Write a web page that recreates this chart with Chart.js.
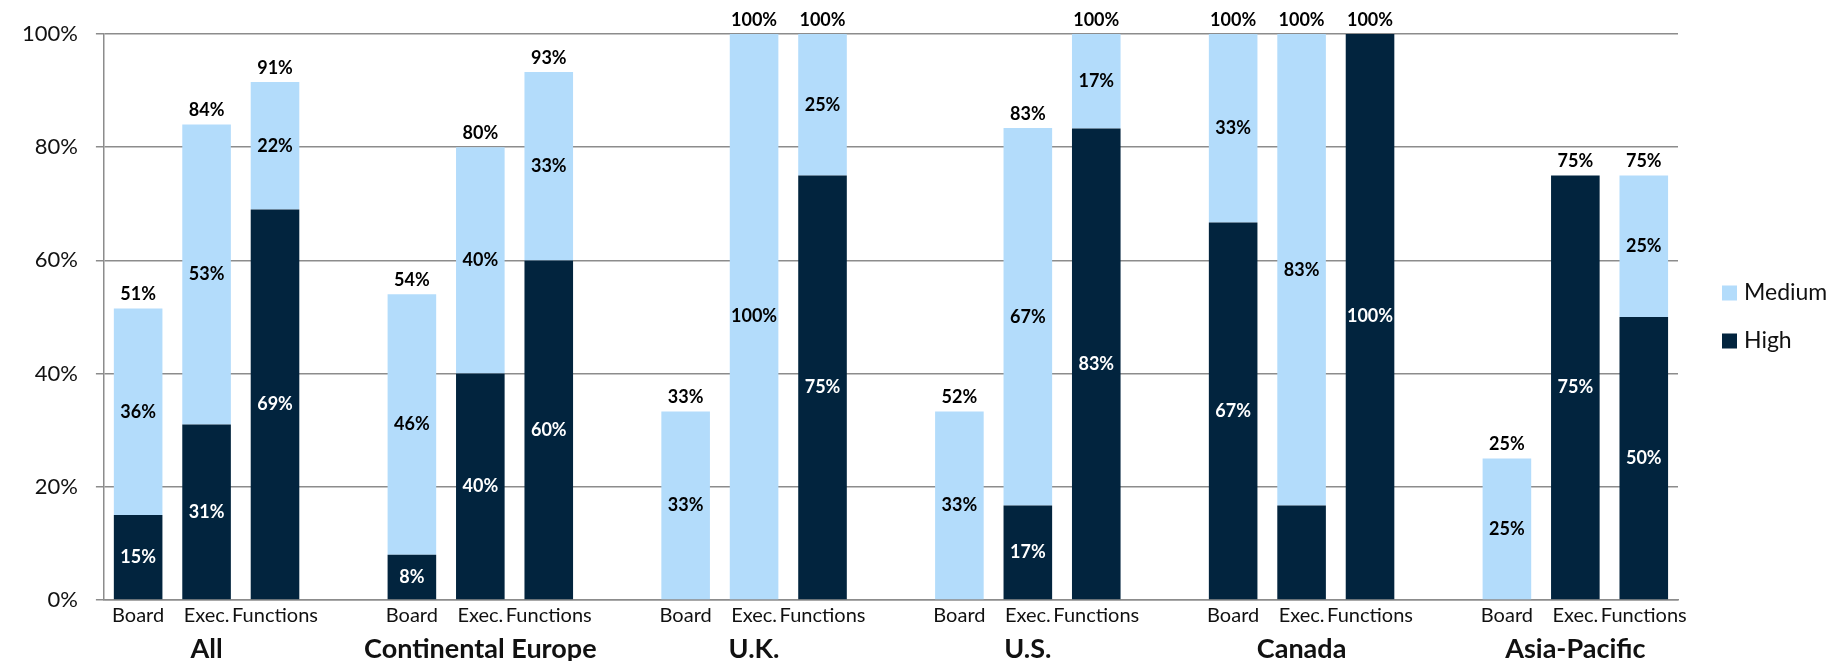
<!DOCTYPE html>
<html>
<head>
<meta charset="utf-8">
<title>Risk level by region</title>
<script src="https://cdn.jsdelivr.net/npm/chart.js@4.4.1/dist/chart.umd.min.js"></script>
<style>
    html, body { margin: 0; padding: 0; background: #fff; }
</style>
</head>
<body>
<canvas id="myChart" width="1835" height="661"></canvas>
<script>
// Regions and the three bars shown for each
const groups = ['All', 'Continental Europe', 'U.K.', 'U.S.', 'Canada', 'Asia-Pacific'];
const roles = ['Board', 'Exec.', 'Functions'];

// Bar heights (%), three per region in the order above
const highValues   = [15, 31, 69,   8, 40, 60,    0, 0, 75,      0, 16.7, 83.3,    66.7, 16.7, 100,   0, 75, 50];
const mediumValues = [36.5, 53, 22.5,   46, 40, 33.3,   33.3, 100, 25,   33.3, 66.7, 16.7,   33.3, 83.3, 0,   25, 0, 25];

// Printed labels (null = no label)
const highLabels   = [15, 31, 69,   8, 40, 60,   null, null, 75,   null, 17, 83,   67, null, 100,   null, 75, 50];
const mediumLabels = [36, 53, 22,   46, 40, 33,   33, 100, 25,   33, 67, 17,   33, 83, null,   25, null, 25];
const totalLabels  = [51, 84, 91,   54, 80, 93,   33, 100, 100,   52, 83, 100,   100, 100, 100,   25, 75, 75];

const yTicks = [0, 20, 40, 60, 80, 100];

const darkBlue = '#02243e';
const lightBlue = '#b3dcfb';
const gridGray = '#8c8c8c';
const textColor = '#111';

// Build the category slots, with one empty slot between regions
const slotLabels = [];
const groupRow = [];
const high = [], medium = [], hiText = [], medText = [], totText = [];

groups.forEach((g, gi) => {
    if (gi > 0) {
        slotLabels.push('');
        groupRow.push('');
        high.push(null); medium.push(null);
        hiText.push(null); medText.push(null); totText.push(null);
    }
    roles.forEach((r, ri) => {
        const k = gi * 3 + ri;
        slotLabels.push(r);
        groupRow.push(ri === 1 ? g : '');
        high.push(highValues[k]);
        medium.push(mediumValues[k]);
        hiText.push(highLabels[k]);
        medText.push(mediumLabels[k]);
        totText.push(totalLabels[k]);
    });
});

Chart.defaults.font.family = 'Lato';
Chart.defaults.color = textColor;

// Percent labels inside the segments and on top of each bar
const barLabels = {
    id: 'barLabels',
    afterDatasetsDraw(chart) {
        const ctx = chart.ctx;
        const hiMeta = chart.getDatasetMeta(0);
        const medMeta = chart.getDatasetMeta(1);
        ctx.save();
        ctx.font = 'bold 18px Lato';
        ctx.textAlign = 'center';
        ctx.textBaseline = 'middle';

        hiMeta.data.forEach((bar, i) => {
            if (hiText[i] == null) return;
            ctx.fillStyle = '#fff';
            ctx.fillText(hiText[i] + '%', bar.x, (bar.y + bar.base) / 2);
        });
        medMeta.data.forEach((bar, i) => {
            if (medText[i] == null) return;
            ctx.fillStyle = '#000';
            ctx.fillText(medText[i] + '%', bar.x, (bar.y + bar.base) / 2);
        });

        // totals sit above the top of the stack
        ctx.textBaseline = 'bottom';
        ctx.fillStyle = '#000';
        medMeta.data.forEach((bar, i) => {
            if (totText[i] == null) return;
            ctx.fillText(totText[i] + '%', bar.x, bar.y - 5);
        });
        ctx.restore();
    }
};

// Legend to the right of the plot, Medium above High
const sideLegend = {
    id: 'sideLegend',
    afterDraw(chart) {
        const ctx = chart.ctx;
        const area = chart.chartArea;
        const items = [chart.data.datasets[1], chart.data.datasets[0]];
        const x = area.right + 44;
        const midY = (area.top + area.bottom) / 2;
        ctx.save();
        ctx.font = '23px Lato';
        ctx.textBaseline = 'middle';
        ctx.textAlign = 'left';
        items.forEach((ds, i) => {
            const y = midY - 24 + i * 48;
            ctx.fillStyle = ds.backgroundColor;
            ctx.fillRect(x, y - 7.5, 15, 15);
            ctx.fillStyle = textColor;
            ctx.fillText(ds.label, x + 22, y);
        });
        ctx.restore();
    }
};

const ctx = document.getElementById('myChart').getContext('2d');
new Chart(ctx, {
    type: 'bar',
    data: {
        labels: slotLabels,
        datasets: [{
            label: 'High',
            data: high,
            backgroundColor: darkBlue,
            barPercentage: 0.71,
            categoryPercentage: 1
        }, {
            label: 'Medium',
            data: medium,
            backgroundColor: lightBlue,
            barPercentage: 0.71,
            categoryPercentage: 1
        }]
    },
    options: {
        responsive: false,
        devicePixelRatio: 1,
        animation: false,
        layout: {
            padding: { left: 4, right: 157, top: 34, bottom: -6 }
        },
        plugins: {
            legend: { display: false },
            tooltip: { enabled: false }
        },
        scales: {
            x: {
                stacked: true,
                grid: { display: false, drawTicks: false },
                border: { display: true, color: gridGray, width: 1.5 },
                ticks: {
                    autoSkip: false,
                    maxRotation: 0,
                    padding: 6,
                    color: textColor,
                    font: { size: 20, lineHeight: 1 }
                }
            },
            x2: {
                type: 'category',
                position: 'bottom',
                display: true,
                offset: true,
                labels: groupRow,
                grid: { display: false, drawTicks: false },
                border: { display: false },
                ticks: {
                    autoSkip: false,
                    maxRotation: 0,
                    padding: 4,
                    color: textColor,
                    font: { size: 27, weight: 'bold', lineHeight: 1 }
                }
            },
            y: {
                stacked: true,
                min: yTicks[0],
                max: yTicks[yTicks.length - 1],
                afterBuildTicks(scale) {
                    scale.ticks = yTicks.map(v => ({ value: v }));
                },
                grid: { color: gridGray, lineWidth: 1.5, tickLength: 8 },
                border: { display: true, color: gridGray, width: 1.5 },
                ticks: {
                    padding: 18,
                    color: textColor,
                    font: { size: 22 },
                    callback: v => v + '%'
                }
            }
        }
    },
    plugins: [barLabels, sideLegend]
});
</script>
</body>
</html>
